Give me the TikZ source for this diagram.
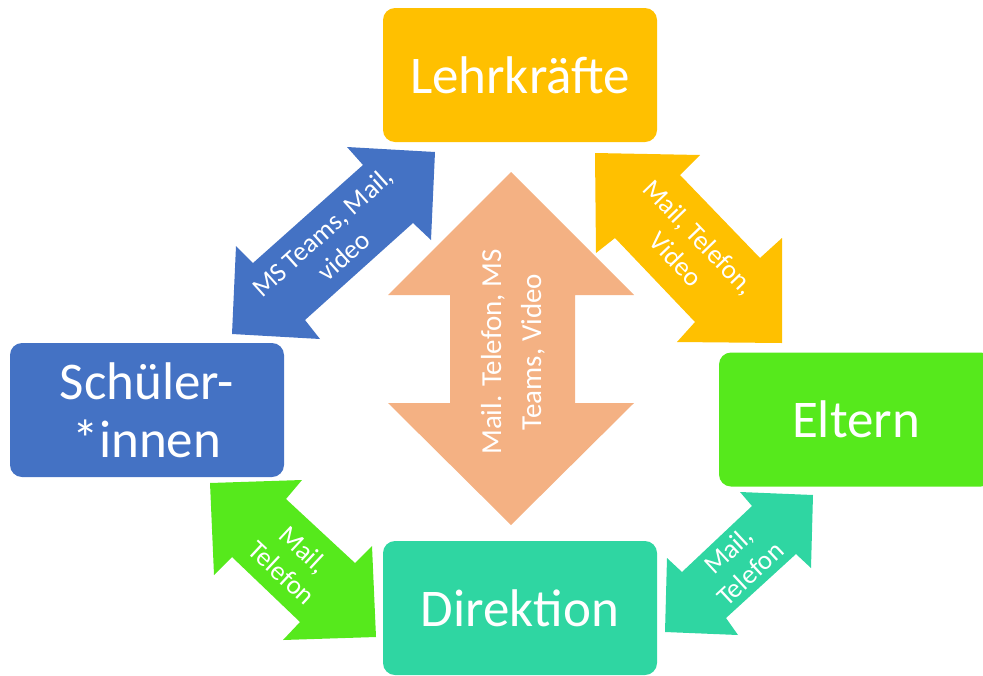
\documentclass[tikz,border=0pt]{standalone}
\usepackage{fontspec}
\setmainfont{Carlito}
\definecolor{cyellow}{HTML}{FFC000}
\definecolor{cblue}{HTML}{4472C4}
\definecolor{cgreen}{HTML}{56E91C}
\definecolor{cteal}{HTML}{2FD6A2}
\definecolor{cpeach}{HTML}{F4B183}
\begin{document}
\begin{tikzpicture}[x=1pt,y=-1pt,
  box/.style={rounded corners=12pt, minimum width=274pt, minimum height=134pt,
    inner sep=0pt, text=white, align=center,
    font=\fontsize{53}{58}\selectfont},
  lbl/.style={text=white, align=center, inner sep=0pt,
    font=\fontsize{27}{32}\selectfont}]
\useasboundingbox (0,0) rectangle (983,675);
\clip (0,0) rectangle (983,675);

% boxes
\node[box, fill=cyellow] (lehr) at (520,75) {Lehrkräfte};
\node[box, fill=cblue] (schue) at (147,410) {Schüler-\\*innen};
\node[box, fill=cgreen] (eltern) at (856,419.5) {Eltern};
\node[box, fill=cteal] (dir) at (520,608) {Direktion};

% blue arrow (Lehrkräfte <-> Schüler)
\fill[cblue] (435,152) -- (431,240) -- (413,223) -- (305,320) -- (320,339)
  -- (232,334) -- (236,246) -- (253,263) -- (363,165) -- (347,147) -- cycle;
\node[lbl, rotate=42] (tblue) at (333,244) {MS Teams, Mail,\\video};

% yellow arrow (Lehrkräfte <-> Eltern)
\fill[cyellow] (595,153) -- (700,155) -- (680,175) -- (760,258) -- (782,238)
  -- (782,343) -- (677,342) -- (695,322) -- (615,238) -- (596,253) -- cycle;
\node[lbl, rotate=-46] (tyellow) at (688,248) {Mail, Telefon,\\Video};

% green arrow (Schüler <-> Direktion)
\fill[cgreen] (210,483) -- (302,480) -- (286,499) -- (355,563) -- (372,546)
  -- (376,637) -- (283,640) -- (300,622) -- (232,557) -- (214,575) -- cycle;
\node[lbl, rotate=-43] (tgreen) at (293,561) {Mail,\\Telefon};

% teal arrow (Eltern <-> Direktion)
\fill[cteal] (813,495) -- (811,568) -- (796,554) -- (726,618) -- (738,635)
  -- (665,632) -- (667,558) -- (682,572) -- (752,506) -- (740,492) -- cycle;
\node[lbl, rotate=43] (tteal) at (739,562) {Mail,\\Telefon};

% peach vertical arrow (Lehrkräfte <-> Direktion)
\fill[cpeach] (511,172) -- (634,295) -- (575,295) -- (575,403) -- (634,403)
  -- (511,525) -- (388,403) -- (450,403) -- (450,295) -- (388,295) -- cycle;
\node[lbl, rotate=90, font=\fontsize{29}{40}\selectfont] (tpeach) at (513,352)
  {Mail. Telefon, MS\\Teams, Video};
\end{tikzpicture}
\end{document}
